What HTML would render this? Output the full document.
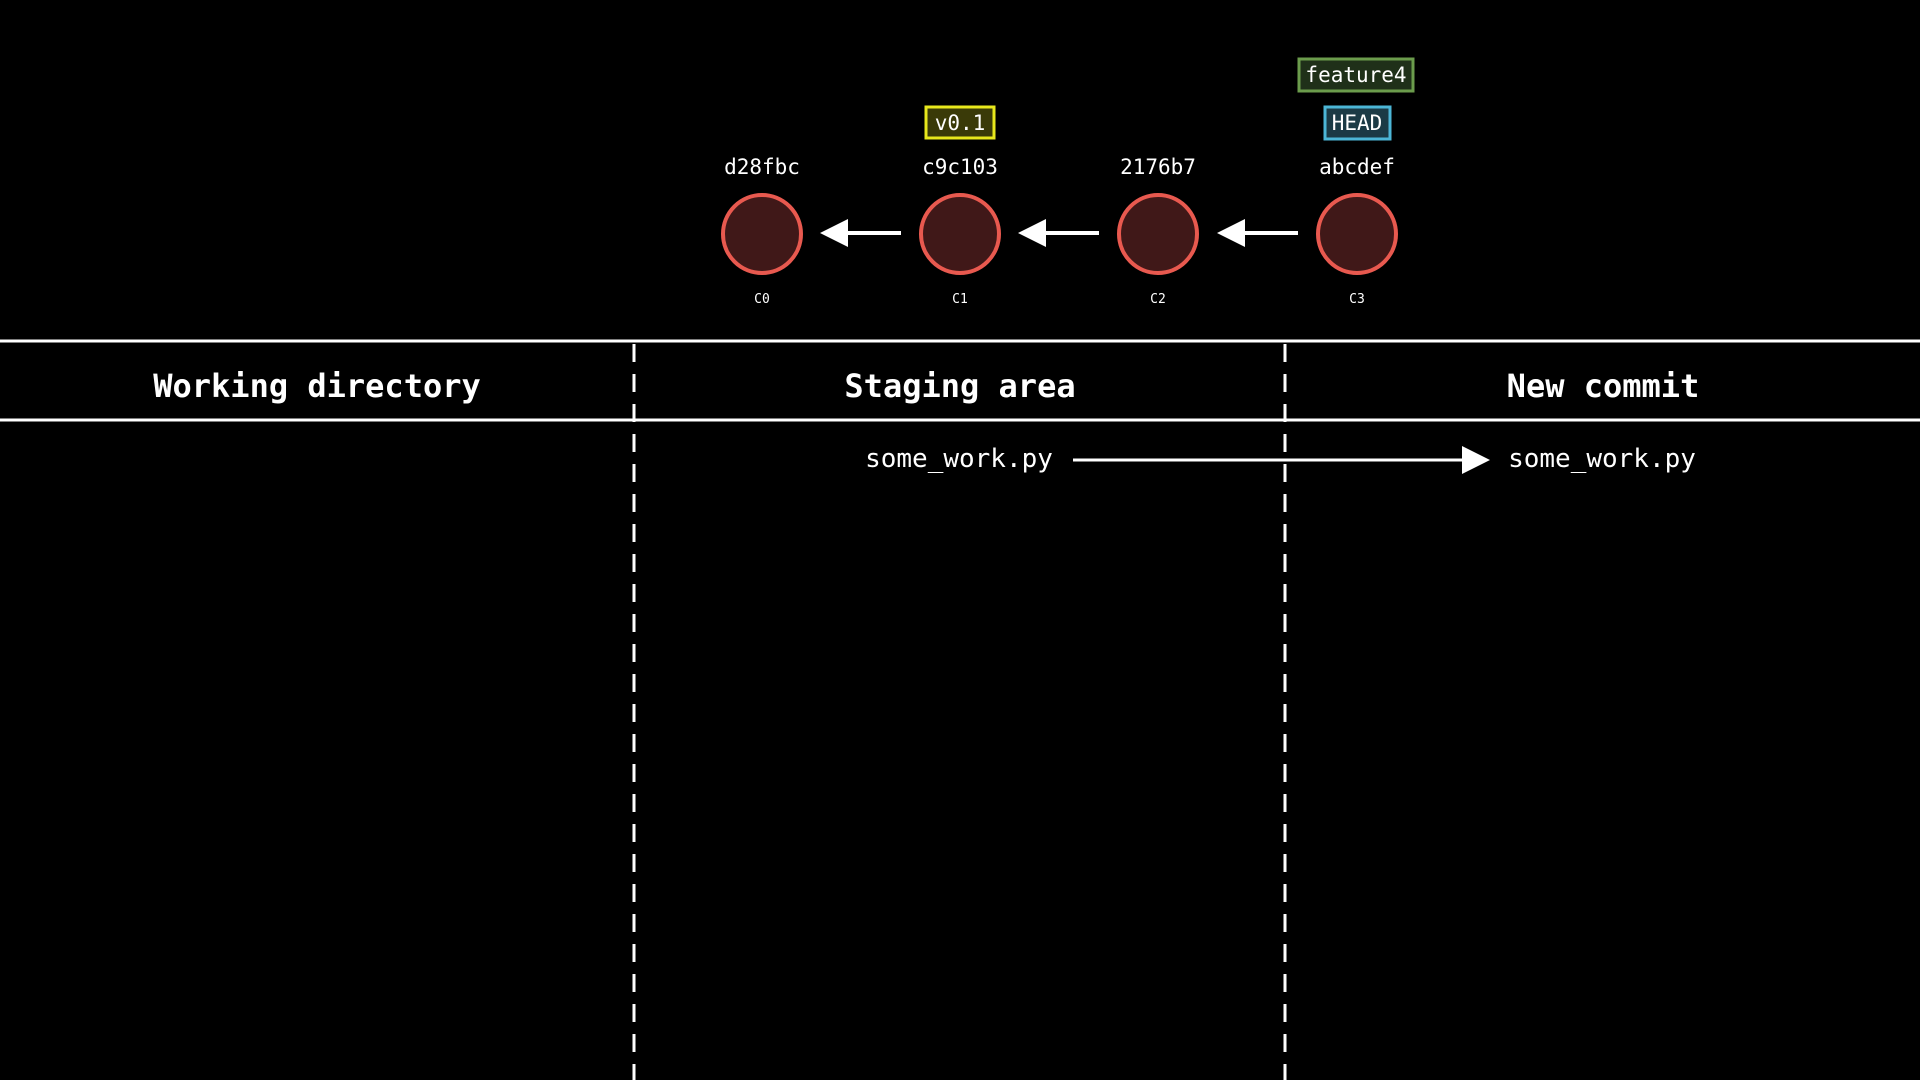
<!DOCTYPE html>
<html><head><meta charset="utf-8"><style>
html,body{margin:0;padding:0;background:#000;width:1920px;height:1080px;overflow:hidden}
svg{display:block}
text{font-family:"DejaVu Sans Mono","Liberation Mono",monospace;fill:#fff}
</style></head><body>
<svg width="1920" height="1080" viewBox="0 0 1920 1080">
<rect width="1920" height="1080" fill="#000"/>
<!-- tags -->
<rect x="1299" y="59" width="114" height="32" fill="#1f3019" stroke="#6b9c4c" stroke-width="3"/>
<text x="1356" y="82" font-size="21" text-anchor="middle">feature4</text>
<rect x="1325" y="107" width="65" height="32" fill="#1b3a45" stroke="#4cb6d6" stroke-width="3"/>
<text x="1357" y="130" font-size="21" text-anchor="middle">HEAD</text>
<rect x="926" y="107" width="68" height="31" fill="#3a3a08" stroke="#e8e81c" stroke-width="3"/>
<text x="960" y="130" font-size="21" text-anchor="middle">v0.1</text>
<!-- hashes -->
<g font-size="21" text-anchor="middle">
<text x="762" y="174">d28fbc</text>
<text x="960" y="174">c9c103</text>
<text x="1158" y="174">2176b7</text>
<text x="1357" y="174">abcdef</text>
</g>
<!-- circles -->
<g fill="#401818" stroke="#e8594f" stroke-width="4">
<circle cx="762" cy="234" r="39"/>
<circle cx="960" cy="234" r="39"/>
<circle cx="1158" cy="234" r="39"/>
<circle cx="1357" cy="234" r="39"/>
</g>
<!-- arrows -->
<g stroke="#fff" stroke-width="4">
<line x1="901" y1="233" x2="845" y2="233"/>
<line x1="1099" y1="233" x2="1043" y2="233"/>
<line x1="1298" y1="233" x2="1242" y2="233"/>
</g>
<g fill="#fff">
<polygon points="820,233 848,219 848,247"/>
<polygon points="1018,233 1046,219 1046,247"/>
<polygon points="1217,233 1245,219 1245,247"/>
</g>
<g font-size="13" text-anchor="middle">
<text x="762" y="303">C0</text>
<text x="960" y="303">C1</text>
<text x="1158" y="303">C2</text>
<text x="1357" y="303">C3</text>
</g>
<!-- table -->
<line x1="0" y1="341" x2="1920" y2="341" stroke="#fff" stroke-width="3"/>
<line x1="0" y1="420" x2="1920" y2="420" stroke="#fff" stroke-width="3"/>
<g stroke="#fff" stroke-width="3" stroke-dasharray="18 12">
<line x1="634" y1="344" x2="634" y2="1080"/>
<line x1="1285" y1="344" x2="1285" y2="1080"/>
</g>
<g font-size="32" font-weight="bold" text-anchor="middle">
<text x="317" y="397">Working directory</text>
<text x="960" y="397">Staging area</text>
<text x="1603" y="397">New commit</text>
</g>
<g font-size="26" text-anchor="middle">
<text x="959" y="467">some_work.py</text>
<text x="1602" y="467">some_work.py</text>
</g>
<line x1="1073" y1="460" x2="1465" y2="460" stroke="#fff" stroke-width="3"/>
<polygon points="1490,460 1462,446 1462,474" fill="#fff"/>
</svg>
</body></html>
